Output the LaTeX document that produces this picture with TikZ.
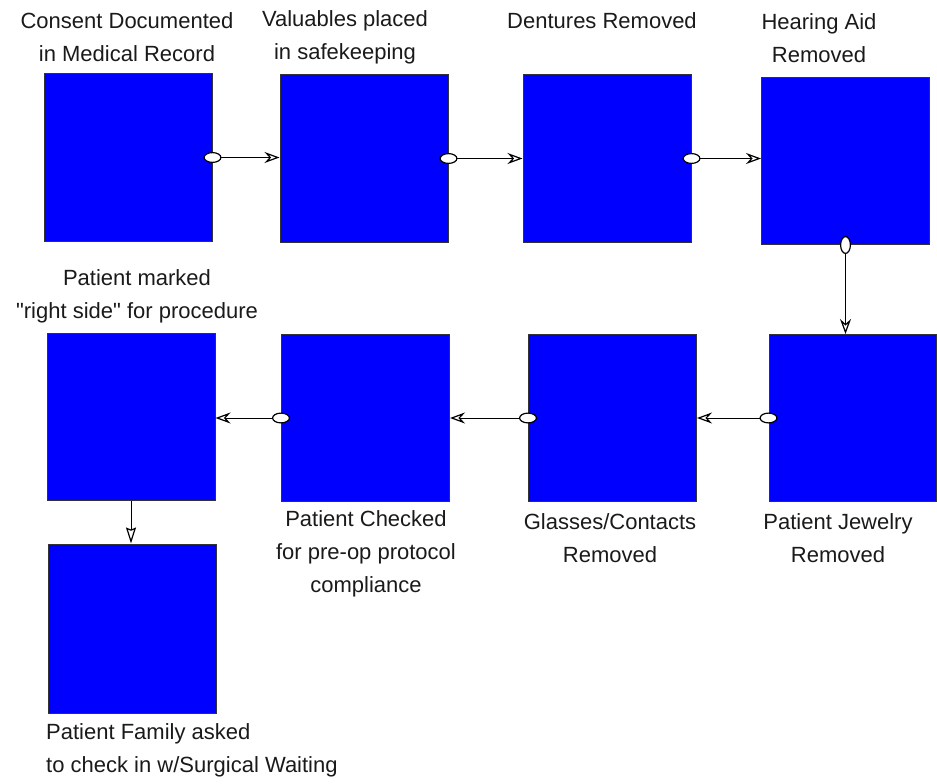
\documentclass[tikz,border=0pt]{standalone}
\usepackage{fontspec}
\setmainfont{Liberation Sans}
\newfontfamily\labelfont{Liberation Sans}
\usetikzlibrary{arrows.meta}
\definecolor{boxblue}{HTML}{0000FF}
\definecolor{txtgray}{HTML}{1A1A1A}
\tikzset{
  stepbox/.style={draw=black!80, line width=1pt, fill=boxblue, minimum width=168pt, minimum height=167pt, inner sep=0pt},
  lbl/.style={font=\labelfont\fontsize{22}{33}\selectfont, text=txtgray, align=center, inner sep=0pt},
  conn/.style={line width=1pt, draw=black,
    {Ellipse[fill=white, length=18pt, width=11pt, line width=1.2pt]}-{Stealth[open, length=15pt, width=11pt, inset=5pt, line width=1.2pt]},
    shorten <=-9pt},
  plainconn/.style={line width=1pt, draw=black, -{Stealth[open, length=16pt, width=10pt, inset=2pt, line width=1.2pt]}}
}
\begin{document}
\begin{tikzpicture}[x=1pt,y=-1pt]
\useasboundingbox (0,0) rectangle (937,784);
% boxes
\node[stepbox] (b1) at (128,157.5) {};
\node[stepbox] (b2) at (364,158.5) {};
\node[stepbox] (b3) at (607,158.5) {};
\node[stepbox] (b4) at (845.5,161) {};
\node[stepbox] (b5) at (131,416.5) {};
\node[stepbox] (b6) at (365.5,418) {};
\node[stepbox] (b7) at (612.5,418) {};
\node[stepbox, minimum width=167pt] (b8) at (852.5,418) {};
\node[stepbox, minimum height=169pt] (b9) at (132.5,628.5) {};
% labels
\node[lbl] (l1) at (127,37) {Consent Documented\\in Medical Record};
\node[lbl] (l2) at (345,37) {Valuables placed\\in safekeeping};
\node[lbl] (l3) at (602,21) {Dentures Removed};
\node[lbl] (l4) at (819,38) {Hearing Aid\\Removed};
\node[lbl] (l5) at (137,296) {Patient marked\\"right side" for procedure};
\node[lbl] (l6) at (366,554) {Patient Checked\\for pre-op protocol\\compliance};
\node[lbl] (l7) at (610,538) {Glasses/Contacts\\Removed};
\node[lbl] (l8) at (838,538) {Patient Jewelry\\Removed};
\node[lbl, align=left, anchor=west] (l9) at (46,750) {Patient Family asked\\to check in w/Surgical Waiting};
% connectors
\draw[conn] (b1.east) -- (b2.west |- b1.east);
\draw[conn] (b2.east) -- (b3.west |- b2.east);
\draw[conn] (b3.east) -- (b4.west |- b3.east);
\draw[conn] (b4.south) -- (b8.north -| b4.south);
\draw[conn] (b8.west) -- (b7.east |- b8.west);
\draw[conn] (b7.west) -- (b6.east |- b7.west);
\draw[conn] (b6.west) -- (b5.east |- b6.west);
\draw[plainconn] (b5.south) -- (b9.north -| b5.south);
\end{tikzpicture}
\end{document}
